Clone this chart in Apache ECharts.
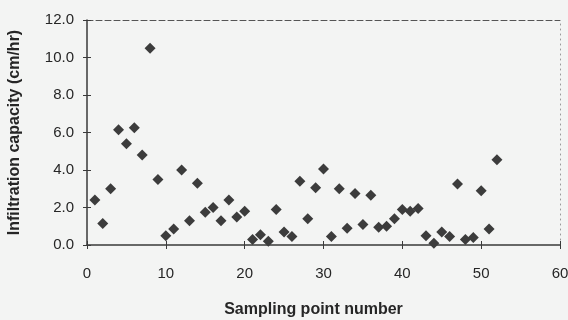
<!DOCTYPE html>
<html>
<head>
<meta charset="utf-8">
<script src="https://cdn.jsdelivr.net/npm/echarts@6/dist/echarts.min.js"></script>
<style>
html,body{margin:0;padding:0;background:#f3f4f3;}
#chart{width:568px;height:320px;}
</style>
</head>
<body>
<div id="chart"></div>
<script>
var samplingPoints = [1,2,3,4,5,6,7,8,9,10,11,12,13,14,15,16,17,18,19,20,21,22,23,24,25,26,27,28,29,30,31,32,33,34,35,36,37,38,39,40,41,42,43,44,45,46,47,48,49,50,51,52];
var infiltration = [2.4,1.15,3.0,6.15,5.4,6.25,4.8,10.5,3.5,0.5,0.85,4.0,1.3,3.3,1.75,2.0,1.3,2.4,1.5,1.8,0.3,0.55,0.2,1.9,0.7,0.45,3.4,1.4,3.05,4.05,0.45,3.0,0.9,2.75,1.1,2.65,0.95,1.0,1.4,1.9,1.8,1.95,0.5,0.1,0.7,0.45,3.25,0.3,0.4,2.9,0.85,4.55];
var xTicks = [0,10,20,30,40,50,60];
var yTicks = [0,2,4,6,8,10,12];
var xTitle = 'Sampling point number';
var yTitle = 'Infiltration capacity (cm/hr)';

var pts = samplingPoints.map(function(x,i){return [x, infiltration[i]];});
var axisColor = '#3a3a3a';
var textStyle = {color:'#262626', fontFamily:'Liberation Sans, Arial, sans-serif', fontSize:15};
var titleStyle = {color:'#262626', fontFamily:'Liberation Sans, Arial, sans-serif', fontSize:16, fontWeight:'bold'};

var chart = echarts.init(document.getElementById('chart'), null, {renderer:'canvas'});
chart.setOption({
  backgroundColor:'#f3f4f3',
  animation:false,
  grid:{left:87,right:8,top:20,bottom:75,containLabel:false,outerBoundsMode:'none'},
  xAxis:[{
    type:'value', min:xTicks[0], max:xTicks[xTicks.length-1], interval:10,
    position:'bottom',
    name:xTitle, nameLocation:'middle', nameGap:57,
    nameTextStyle:Object.assign({}, titleStyle, {padding:[0,20,0,0]}),
    axisLine:{show:true, onZero:false, lineStyle:{color:axisColor,width:1.5}},
    axisTick:{show:true, inside:false, length:4, lineStyle:{color:axisColor}},
    axisLabel:Object.assign({}, textStyle, {margin:21}),
    splitLine:{show:false}
  },{
    type:'value', min:xTicks[0], max:xTicks[xTicks.length-1], interval:10,
    position:'bottom',
    axisLine:{show:false, onZero:false},
    axisTick:{show:true, inside:true, length:4, lineStyle:{color:axisColor}},
    axisLabel:{show:false}, splitLine:{show:false}
  },{
    type:'value', min:xTicks[0], max:xTicks[xTicks.length-1], interval:10,
    position:'top',
    axisLine:{show:true, onZero:false, lineStyle:{color:'#555',width:1,type:[6,3]}},
    axisTick:{show:false}, axisLabel:{show:false}, splitLine:{show:false}
  }],
  yAxis:[{
    type:'value', min:yTicks[0], max:yTicks[yTicks.length-1], interval:2,
    position:'left',
    name:yTitle, nameLocation:'middle', nameGap:64, nameRotate:90,
    nameTextStyle:titleStyle,
    axisLine:{show:true, onZero:false, lineStyle:{color:axisColor,width:1.5}},
    axisTick:{show:true, inside:false, length:4, lineStyle:{color:axisColor}},
    axisLabel:Object.assign({}, textStyle, {margin:13, formatter:function(v){return v.toFixed(1);}}),
    splitLine:{show:false}
  },{
    type:'value', min:yTicks[0], max:yTicks[yTicks.length-1], interval:2,
    position:'left',
    axisLine:{show:false, onZero:false},
    axisTick:{show:true, inside:true, length:4, lineStyle:{color:axisColor}},
    axisLabel:{show:false}, splitLine:{show:false}
  },{
    type:'value', min:yTicks[0], max:yTicks[yTicks.length-1], interval:2,
    position:'right',
    axisLine:{show:true, onZero:false, lineStyle:{color:'#999',width:1,type:[1,4]}},
    axisTick:{show:false}, axisLabel:{show:false}, splitLine:{show:false}
  }],
  series:[{
    type:'scatter',
    xAxisIndex:0, yAxisIndex:0,
    symbol:'diamond',
    symbolSize:11,
    itemStyle:{color:'#3c3c3c', opacity:1},
    data:pts
  }]
});
</script>
</body>
</html>
